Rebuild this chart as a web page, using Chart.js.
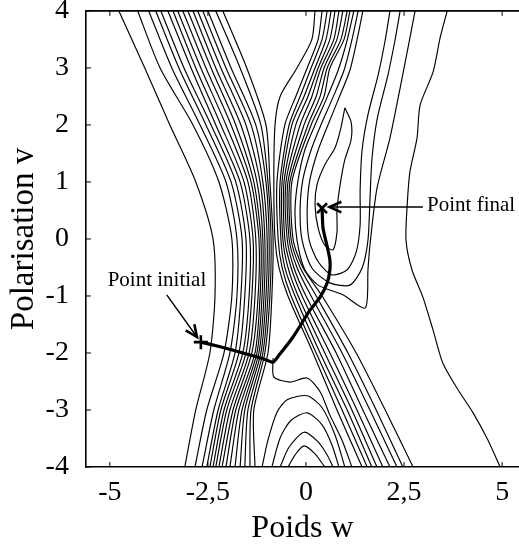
<!DOCTYPE html>
<html><head><meta charset="utf-8">
<script src="https://cdn.jsdelivr.net/npm/chart.js@4/dist/chart.umd.min.js"></script>
<style>html,body{margin:0;padding:0;background:#fff;}#wrap{width:519px;height:548px;position:relative;}</style>
</head><body><div id="wrap"><canvas id="c"></canvas></div>
<script>
// ---- axes ----
const xTicks = [-5, -2.5, 0, 2.5, 5];
const xTickLabels = ['-5', '-2,5', '0', '2,5', '5'];
const yTicks = [-4, -3, -2, -1, 0, 1, 2, 3, 4];
const yTickLabels = ['-4', '-3', '-2', '-1', '0', '1', '2', '3', '4'];

// ---- left ">" contour family: w read at fixed v levels ----
const leftLevelsV = [4, 3, 2, 1, 0, -1, -2, -3, -4];
const leftLinesW = [
  [-4.77,-4.11,-3.47,-2.81,-2.37,-2.32,-2.45,-2.81,-3.09],
  [-4.29,-3.72,-2.88,-2.22,-1.89,-1.89,-2.09,-2.53,-2.83],
  [-4.01,-3.42,-2.70,-2.04,-1.76,-1.76,-1.94,-2.35,-2.65],
  [-3.83,-3.24,-2.55,-1.91,-1.63,-1.66,-1.81,-2.24,-2.53],
  [-3.70,-3.11,-2.42,-1.79,-1.53,-1.56,-1.71,-2.17,-2.45],
  [-3.52,-2.93,-2.30,-1.68,-1.43,-1.45,-1.61,-2.09,-2.37],
  [-3.39,-2.81,-2.17,-1.58,-1.35,-1.38,-1.53,-2.02,-2.30],
  [-3.27,-2.68,-2.04,-1.48,-1.28,-1.30,-1.45,-1.94,-2.22],
  [-3.14,-2.55,-1.91,-1.40,-1.20,-1.22,-1.38,-1.86,-2.14],
  [-3.01,-2.42,-1.79,-1.33,-1.15,-1.17,-1.30,-1.79,-2.04],
  [-2.88,-2.30,-1.66,-1.25,-1.10,-1.12,-1.25,-1.71,-1.94],
  [-2.76,-2.17,-1.53,-1.17,-1.05,-1.07,-1.20,-1.63,-1.81],
  [-2.63,-2.04,-1.40,-1.10,-0.99,-1.02,-1.15,-1.56,-1.68],
  [-2.50,-1.91,-1.28,-1.02,-0.94,-0.97,-1.10,-1.48,-1.56],
  [-2.30,-1.68,-1.15,-0.97,-0.89,-0.92,-1.05,-1.40,-1.43],
  [-2.12,-1.51,-1.02,-0.92,-0.84,-0.87,-0.97,-1.33,-1.30]
];

// ---- right "<" contour family: w read at fixed v levels ----
const crossLevelsV = [4, 3.5, 3, 2.5, 2, 1, 0, -0.5, -1, -2, -3, -4];
const crossLinesW = [
  [0.23,0.15,-0.23,-0.66,-0.79,-0.82,-0.79,-0.69,-0.46,0.18,0.79,1.43],
  [0.41,0.31,0.03,-0.26,-0.54,-0.74,-0.71,-0.61,-0.38,0.26,0.92,1.56],
  [0.54,0.41,0.13,-0.15,-0.43,-0.66,-0.64,-0.54,-0.28,0.36,1.05,1.68],
  [0.64,0.51,0.23,-0.05,-0.36,-0.61,-0.59,-0.46,-0.20,0.48,1.17,1.81],
  [0.74,0.61,0.31,0.05,-0.26,-0.56,-0.54,-0.38,-0.10,0.61,1.30,1.96],
  [0.84,0.71,0.38,0.15,-0.15,-0.51,-0.48,-0.31,0.00,0.77,1.45,2.14],
  [0.94,0.79,0.46,0.26,-0.05,-0.46,-0.43,-0.23,0.13,0.92,1.63,2.32],
  [1.05,0.89,0.54,0.36,0.05,-0.41,-0.38,-0.15,0.26,1.07,1.79,2.47],
  [1.12,0.97,0.61,0.46,0.13,-0.36,-0.33,-0.08,0.41,1.28,2.02,2.73]
];

// ---- contours around the valley of the final point: [w, v] ----
const valleyLine1 = [[0.99,2.30],[1.15,2.05],[1.15,1.74],[0.99,1.39],[0.87,0.95],[0.79,0.51],[0.79,0.12],[0.69,-0.19],[0.48,-0.11],[0.31,0.19],[0.23,0.60],[0.28,0.95],[0.48,1.30],[0.74,1.60],[0.89,1.95],[0.99,2.30]];
const valleyLine2 = [[1.45,4.0],[1.30,3.49],[1.12,2.96],[0.82,2.44],[0.56,2.0],[0.31,1.56],[0.10,1.04],[0.03,0.51],[0.08,-0.02],[0.31,-0.40],[0.66,-0.63],[1.05,-0.54],[1.28,-0.23],[1.38,0.25],[1.38,0.86],[1.43,1.56],[1.58,2.18],[1.84,2.88],[2.02,3.49],[2.14,4.0]];
const valleyLine3 = [[1.33,4.0],[1.17,3.49],[0.97,2.96],[0.66,2.44],[0.38,2.0],[0.13,1.56],[-0.08,1.04],[-0.15,0.51],[-0.10,-0.02],[0.15,-0.51],[0.61,-0.77],[1.12,-0.81],[1.43,-0.51],[1.58,-0.02],[1.63,0.68],[1.68,1.39],[1.81,2.09],[2.09,2.88],[2.27,3.49],[2.40,4.0]];
const valleyLine4 = [[1.22,4.0],[1.05,3.49],[0.82,2.96],[0.51,2.44],[0.23,2.0],[-0.03,1.56],[-0.20,1.04],[-0.28,0.51],[-0.23,-0.02],[-0.03,-0.54],[0.31,-0.81],[0.94,-0.98],[1.51,-1.21],[1.58,-0.54],[1.63,-0.11],[1.81,0.89],[2.14,1.77],[2.40,2.65],[2.65,3.53],[2.78,4.0]];
const outerLine = [[3.60,4.0],[3.42,3.53],[3.24,2.93],[2.91,2.35],[2.83,1.77],[2.65,1.18],[2.58,0.60],[2.55,-0.02],[2.70,-0.54],[2.98,-1.02],[3.24,-1.60],[3.49,-2.18],[3.88,-2.65],[4.26,-3.05],[4.64,-3.53],[4.95,-4.0]];

// ---- nested humps at the bottom centre: [w, v] ----
const hump1 = [[-0.46,-4.0],[-0.26,-3.77],[-0.05,-3.63],[0.23,-3.77],[0.48,-4.0]];
const hump2 = [[-0.66,-4.0],[-0.43,-3.65],[-0.05,-3.39],[0.31,-3.56],[0.54,-3.79],[0.69,-4.0]];
const hump3 = [[-0.87,-4.0],[-0.66,-3.49],[-0.38,-3.18],[0.03,-3.05],[0.41,-3.26],[0.66,-3.61],[0.84,-4.0]];
const hump4 = [[-1.12,-4.0],[-0.97,-3.53],[-0.74,-3.04],[-0.48,-2.82],[0.03,-2.75],[0.41,-2.96],[0.74,-3.44],[0.99,-4.0]];
const hump5 = [[-0.84,-2.09],[-0.82,-2.42],[-0.41,-2.51],[0.03,-2.44],[0.36,-2.68],[0.61,-3.09],[0.92,-3.53],[1.17,-4.0]];

// ---- descent trajectory ----
const pathW = [-2.68,-2.19,-1.61,-1.10,-0.84,-0.70,-0.33,0.10,0.36,0.54,0.61,0.61,0.56,0.48,0.43,0.41];
const pathV = [-1.81,-1.89,-2.00,-2.10,-2.16,-2.05,-1.72,-1.25,-1.02,-0.77,-0.54,-0.37,-0.19,0.04,0.21,0.54];
const startPoint = [-2.68, -1.81];
const endPoint = [0.41, 0.54];

// ---- annotations ----
const noteTexts = ['Point initial', 'Point final'];
const notePos = [[-3.80, -0.72], [4.21, 0.58]];
const arrowFrom = [[-3.55, -0.98], [2.98, 0.56]];
const arrowTo = [[-2.78, -1.72], [0.60, 0.56]];

const FONT = '"Liberation Serif", "Times New Roman", serif';

function lineDs(points, width) {
  return { data: points, showLine: true, pointRadius: 0, borderColor: '#000',
    borderWidth: width || 1.15, tension: 0.25, fill: false };
}
const datasets = [];
leftLinesW.forEach(ws => datasets.push(lineDs(ws.map((w, i) => ({x: w, y: leftLevelsV[i]})))));
crossLinesW.forEach(ws => datasets.push(lineDs(ws.map((w, i) => ({x: w, y: crossLevelsV[i]})))));
[valleyLine1, valleyLine2, valleyLine3, valleyLine4, outerLine, hump1, hump2, hump3, hump4, hump5]
  .forEach(l => datasets.push(lineDs(l.map(p => ({x: p[0], y: p[1]})))));
const traj = lineDs(pathW.map((w, i) => ({x: w, y: pathV[i]})), 3.2);
traj.tension = 0.15;
datasets.push(traj);
datasets.push({ data: [{x: startPoint[0], y: startPoint[1]}], pointStyle: 'cross', pointRadius: 7,
  borderColor: '#000', pointBorderWidth: 2.6, showLine: false });
datasets.push({ data: [{x: endPoint[0], y: endPoint[1]}], pointStyle: 'crossRot', pointRadius: 7,
  borderColor: '#000', pointBorderWidth: 2.6, showLine: false });

function drawArrow(ctx, x0, y0, x1, y1, len, ang) {
  ctx.lineWidth = 1.4;
  ctx.beginPath(); ctx.moveTo(x0, y0); ctx.lineTo(x1, y1); ctx.stroke();
  const a = Math.atan2(y1 - y0, x1 - x0);
  ctx.lineWidth = 2.6;
  ctx.beginPath();
  ctx.moveTo(x1 - len * Math.cos(a - ang), y1 - len * Math.sin(a - ang));
  ctx.lineTo(x1, y1);
  ctx.lineTo(x1 - len * Math.cos(a + ang), y1 - len * Math.sin(a + ang));
  ctx.stroke();
}

const framePlugin = {
  id: 'framePlugin',
  afterDatasetsDraw(chart) {
    const {ctx, chartArea: a, scales: {x, y}} = chart;
    ctx.save();
    ctx.strokeStyle = '#000';
    ctx.lineWidth = 1.6;
    ctx.beginPath(); ctx.moveTo(a.left, a.top); ctx.lineTo(a.right + 2, a.top); ctx.stroke();
    ctx.lineWidth = 1;
    xTicks.forEach(t => {
      const px = x.getPixelForValue(t);
      ctx.beginPath();
      ctx.moveTo(px, a.bottom); ctx.lineTo(px, a.bottom - 5);
      ctx.moveTo(px, a.top); ctx.lineTo(px, a.top + 5);
      ctx.stroke();
    });
    yTicks.forEach(t => {
      const py = y.getPixelForValue(t);
      ctx.beginPath(); ctx.moveTo(a.left, py); ctx.lineTo(a.left + 5, py); ctx.stroke();
    });
    ctx.fillStyle = '#000';
    arrowFrom.forEach((f, i) => {
      const t = arrowTo[i];
      drawArrow(ctx, x.getPixelForValue(f[0]), y.getPixelForValue(f[1]),
        x.getPixelForValue(t[0]), y.getPixelForValue(t[1]), 13, 0.42);
    });
    ctx.font = '21px ' + FONT;
    ctx.textAlign = 'center';
    ctx.textBaseline = 'middle';
    noteTexts.forEach((s, i) => {
      ctx.fillText(s, x.getPixelForValue(notePos[i][0]), y.getPixelForValue(notePos[i][1]));
    });
    ctx.restore();
  }
};

new Chart(document.getElementById('c'), {
  type: 'scatter',
  data: { datasets },
  options: {
    responsive: true, maintainAspectRatio: false, animation: false,
    devicePixelRatio: 1,
    layout: { autoPadding: false, padding: { left: 0, right: 0, top: 0, bottom: 0 } },
    plugins: { legend: { display: false }, tooltip: { enabled: false } },
    events: [],
    scales: {
      x: {
        type: 'linear', position: 'bottom', min: -5.61, max: 5.43,
        afterBuildTicks: s => { s.ticks = xTicks.map(v => ({value: v})); },
        grid: { display: false, drawTicks: true, tickLength: 9 },
        border: { display: true, color: '#000', width: 1.6 },
        ticks: { color: '#000', padding: 0, maxRotation: 0, autoSkip: false,
          font: { family: FONT, size: 28, lineHeight: 1.2 },
          callback: v => xTickLabels[xTicks.indexOf(v)] },
        title: { display: true, text: 'Poids w', color: '#000',
          font: { family: FONT, size: 32, lineHeight: 1.2 }, padding: { top: 0, bottom: 0 } }
      },
      y: {
        type: 'linear', position: 'left', min: -4, max: 4,
        afterBuildTicks: s => { s.ticks = yTicks.map(v => ({value: v})); },
        grid: { display: false, drawTicks: true, tickLength: 17 },
        border: { display: true, color: '#000', width: 1.6 },
        ticks: { color: '#000', padding: 0, autoSkip: false,
          font: { family: FONT, size: 28, lineHeight: 0.78 },
          callback: v => yTickLabels[yTicks.indexOf(v)] },
        title: { display: true, text: 'Polarisation v', color: '#000',
          font: { family: FONT, size: 33, lineHeight: 1.2 }, padding: { top: 5, bottom: 1 } }
      }
    }
  },
  plugins: [framePlugin]
});
</script>
</body></html>
